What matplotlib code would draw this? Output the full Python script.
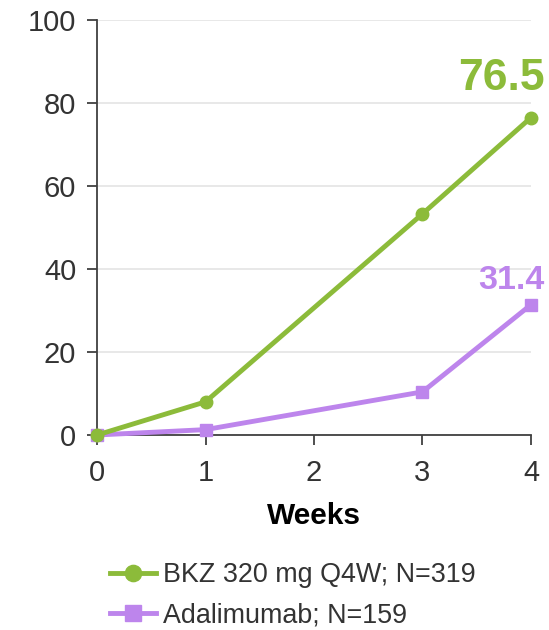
import numpy as np
import matplotlib.pyplot as plt

plt.rcParams['font.family'] = ['Liberation Sans', 'DejaVu Sans']

weeks = [0, 1, 3, 4]
bkz = [0.0, 8.0, 53.3, 76.5]
ada = [0.0, 1.3, 10.4, 31.4]
labels = ['BKZ 320 mg Q4W; N=319', 'Adalimumab; N=159']

GREEN = '#8cbb3a'
PURPLE = '#bd85ec'
AXIS = '#404040'

fig = plt.figure(figsize=(5.49, 6.3), dpi=100)
ax = fig.add_axes([0.1767, 0.3095, 0.7905, 0.6587])

ax.plot(weeks, bkz, color=GREEN, lw=3.5, marker='o', ms=9, label=labels[0],
        zorder=4, clip_on=False)
ax.plot(weeks, ada, color=PURPLE, lw=3.5, marker='s', ms=9, label=labels[1],
        zorder=3, clip_on=False)

# end-point values
ax.annotate(f'{bkz[-1]}', (weeks[-1], bkz[-1]), xytext=(10, 13), textcoords='offset points',
            ha='right', va='bottom', fontsize=32, fontweight='bold', color=GREEN,
            annotation_clip=False)
ax.annotate(f'{ada[-1]}', (weeks[-1], ada[-1]), xytext=(10, 6), textcoords='offset points',
            ha='right', va='bottom', fontsize=24.5, fontweight='bold', color=PURPLE,
            annotation_clip=False)

ax.set_xlim(0, 4)
ax.set_ylim(0, 100)
ax.set_xticks([0, 1, 2, 3, 4])
ax.set_yticks([0, 20, 40, 60, 80, 100])
ax.grid(axis='y', color='#e4e4e4', lw=1.2)
ax.set_axisbelow(True)
for side in ['top', 'right']:
    ax.spines[side].set_visible(False)
for side in ['left', 'bottom']:
    ax.spines[side].set_color(AXIS)
    ax.spines[side].set_linewidth(1.3)
ax.tick_params(axis='both', colors=AXIS, labelcolor='#333333', labelsize=21,
               length=7, width=1.3)
ax.tick_params(axis='x', pad=10)
ax.tick_params(axis='y', pad=8)
ax.set_xlabel('Weeks', fontsize=21.5, fontweight='bold', color='black', labelpad=11)

fig.legend(loc='upper left', bbox_to_anchor=(0.181, 0.125), frameon=False, fontsize=19.4,
           handlelength=1.7, handletextpad=0.25, labelspacing=0.55, borderaxespad=0,
           labelcolor='#333333', markerscale=1.3)

fig.savefig('out.png', dpi=100)
